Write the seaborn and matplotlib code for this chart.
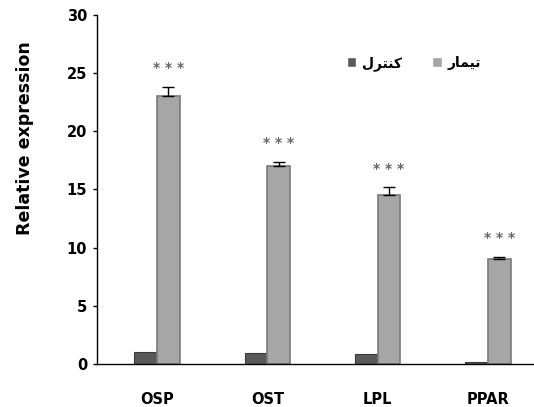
import pandas as pd
import numpy as np
import seaborn as sns
import matplotlib.pyplot as plt

# values
genes = ['OSP', 'OST', 'LPL', 'PPAR']
control = [1.05, 0.95, 0.85, 0.2]
treatment = [23.0, 17.0, 14.5, 9.0]
treatment_err = [0.8, 0.4, 0.7, 0.2]
stars = ['* * *', '* * *', '* * *', '* * *']

# Persian labels, pre-shaped (presentation forms, visual order) since matplotlib does no shaping
label_control = '\uFEDD\uFEAE\uFE98\uFEE8\uFB90'   # کنترل
label_treat = '\uFEAD\uFE8E\uFEE4\uFBFF\uFE97'     # تیمار

df = pd.DataFrame({
    'gene': genes * 2,
    'group': [label_control] * 4 + [label_treat] * 4,
    'value': control + treatment,
})

sns.set_style('white')
plt.rcParams['font.family'] = ['DejaVu Sans Condensed', 'DejaVu Sans']
plt.rcParams['text.color'] = 'black'
plt.rcParams['axes.labelcolor'] = 'black'
plt.rcParams['xtick.color'] = 'black'
plt.rcParams['ytick.color'] = 'black'

fig = plt.figure(figsize=(5.34, 4.07), dpi=100)
ax = fig.add_axes([0.1816, 0.1057, 0.8184, 0.8575])

sns.barplot(data=df, x='gene', y='value', hue='group',
            palette=['#595959', '#a6a6a6'], width=0.41, gap=0,
            errorbar=None, ax=ax, saturation=1)

for bar in ax.containers[0]:
    bar.set_edgecolor('#3a3a3a')
    bar.set_linewidth(0.8)
for bar in ax.containers[1]:
    bar.set_edgecolor('#7a7a7a')
    bar.set_linewidth(1.2)

# one-sided error bars on the treatment bars
xs = [b.get_x() + b.get_width() / 2 for b in ax.containers[1]]
ax.errorbar(xs, treatment, yerr=[np.zeros(4), treatment_err], fmt='none',
            ecolor='black', elinewidth=1, capsize=4, capthick=1)

for x, v, e, s in zip(xs, treatment, treatment_err, stars):
    ax.text(x, v + e + 1.0, s, ha='center', va='bottom', fontsize=10,
            fontweight='bold', color='#666666', family='DejaVu Sans')

ax.set_ylim(0, 30)
ax.set_xlim(-0.544, 3.417)
ax.set_yticks(range(0, 31, 5))
ax.set_xlabel('')
ax.set_ylabel('Relative expression', fontsize=12.5, fontweight='bold',
              family='DejaVu Sans')
ax.yaxis.set_label_coords(-0.145, 0.648)

ax.tick_params(axis='y', which='both', left=True, length=3, width=1,
               color='black', pad=4, labelsize=10.5)
ax.tick_params(axis='x', bottom=False, pad=17, labelsize=10.5)
for lab in ax.get_xticklabels() + ax.get_yticklabels():
    lab.set_fontweight('bold')

for side in ['top', 'right']:
    ax.spines[side].set_visible(False)
for side in ['left', 'bottom']:
    ax.spines[side].set_color('black')
    ax.spines[side].set_linewidth(1)

handles, labels = ax.get_legend_handles_labels()
ax.legend(handles, labels, loc='center', bbox_to_anchor=(0.725, 0.862),
          ncol=2, frameon=False, handlelength=0.7, handleheight=0.7,
          handletextpad=0.4, columnspacing=2.2,
          prop={'family': 'DejaVu Sans', 'weight': 'bold', 'size': 10})

fig.savefig('out.png', dpi=100)
